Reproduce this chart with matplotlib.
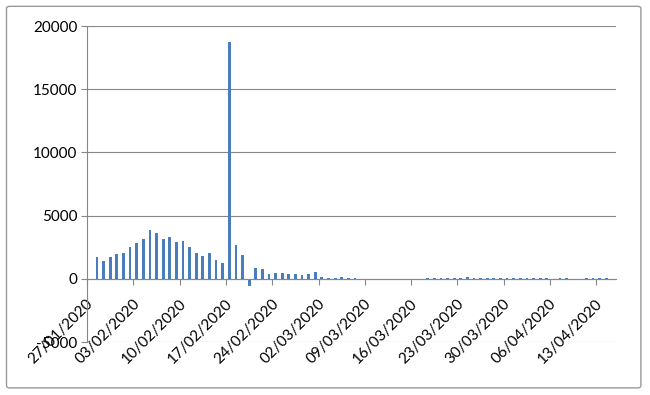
import matplotlib
matplotlib.use("Agg")
import matplotlib.pyplot as plt
import matplotlib.transforms as mtransforms
import numpy as np
import pandas as pd
from matplotlib.patches import FancyBboxPatch

plt.rcParams["font.family"] = ["Lato", "DejaVu Sans"]
plt.rcParams["axes.unicode_minus"] = False

# daily values, 27/01/2020 .. 15/04/2020
dates = pd.date_range("2020-01-27", "2020-04-15", freq="D")
values = [
    0, 1750, 1410, 1700, 1930, 2070, 2540, 2800, 3190, 3850,
    3660, 3120, 3350, 2900, 2960, 2510, 2040, 1780, 2040, 1490,
    1260, 18750, 2670, 1850, -540, 850, 790, 390, 445, 500,
    390, 420, 315, 420, 520, 160, 105, 80, 130, 105,
    50, 25, 20, 24, 15, 10, 12, 20, 16, 22,
    14, 30, 35, 60, 55, 40, 50, 110, 55, 60,
    65, 100, 70, 55, 60, 45, 50, 40, 30, 45,
    25, 35, 40, 20, 25, 60, 80, 70, 30, 20,
]
y_ticks = [-5000, 0, 5000, 10000, 15000, 20000]

grey = "#878787"
bar_color = "#4A7EBB"

fig = plt.figure(figsize=(6.5, 3.95), dpi=100)
ax = fig.add_axes([0.134, 0.134, 0.814, 0.800])

x = np.arange(len(dates)) + 0.5
ax.bar(x, values, width=0.42, color=bar_color, zorder=3)

for side in ("top", "right"):
    ax.spines[side].set_visible(False)
# category axis crosses at zero, like the spreadsheet chart
ax.spines["bottom"].set_position(("data", 0))
ax.spines["bottom"].set_color(grey)
ax.spines["left"].set_color(grey)
ax.spines["bottom"].set_zorder(4)

ax.set_xlim(0, len(dates))
ax.set_ylim(-5000, 20000)
ax.set_yticks(y_ticks)
ax.yaxis.grid(True, color=grey, linewidth=0.8, zorder=0)

tick_idx = np.arange(0, len(dates), 7)
ax.set_xticks(tick_idx)
ax.set_xticklabels([dates[i].strftime("%d/%m/%Y") for i in tick_idx],
                   rotation=45, ha="right", va="center", rotation_mode="anchor")

ax.tick_params(axis="x", colors=grey, length=4, width=0.8, pad=12,
               labelcolor="black", labelsize=11)
ax.tick_params(axis="y", colors=grey, length=4, width=0.8, pad=3,
               labelcolor="black", labelsize=11)

shift = mtransforms.ScaledTranslation(4 / 100, 0, fig.dpi_scale_trans)
for lab in ax.get_xticklabels():
    lab.set_transform(lab.get_transform() + shift)

border = FancyBboxPatch((0.01, 0.018), 0.976, 0.966, boxstyle="round,pad=0,rounding_size=0.005",
                        transform=fig.transFigure, facecolor="none", edgecolor="#9A9A9A",
                        linewidth=1.0)
fig.patches.append(border)

fig.savefig("out.png", dpi=100)
